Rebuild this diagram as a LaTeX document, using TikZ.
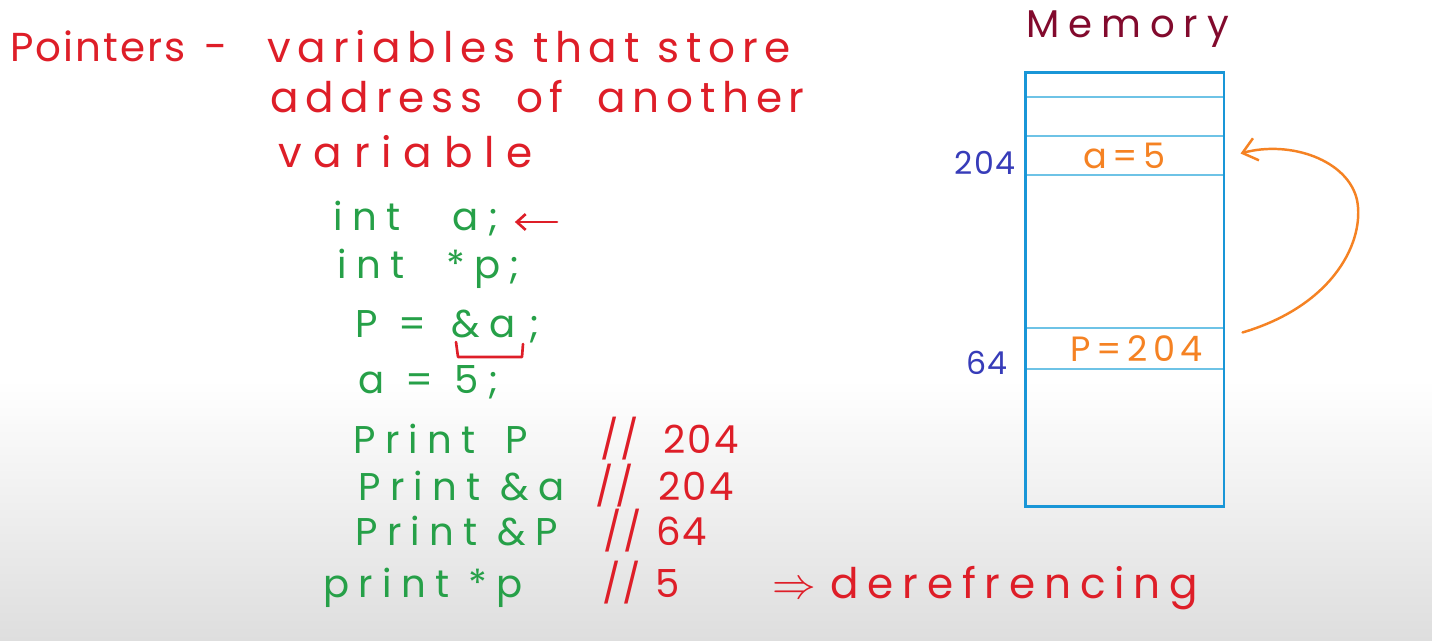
\documentclass[tikz,border=0pt]{standalone}
\usepackage{fontspec}
\usepackage{amssymb,amsmath}
\usetikzlibrary{calc,arrows.meta}
\setmainfont{Poppins}
\newfontfamily\handfont{Poppins}[LetterSpace=16]
\newfontfamily\wideHandfont{Poppins}[LetterSpace=28]
\newfontfamily\derefFont{Poppins}[LetterSpace=21]
\newfontfamily\codefont{Poppins}[LetterSpace=24]
\newfontfamily\numfont{Poppins}[LetterSpace=5]
\newfontfamily\memfont{Poppins}[LetterSpace=23]
\definecolor{inkRed}{RGB}{222,30,40}
\definecolor{inkGreen}{RGB}{38,160,72}
\definecolor{inkMaroon}{RGB}{130,10,45}
\definecolor{inkBlue}{RGB}{55,60,185}
\definecolor{inkOrange}{RGB}{245,130,35}
\definecolor{boxBlue}{RGB}{25,150,215}
\definecolor{cellBlue}{RGB}{110,195,230}
\definecolor{boardGray}{RGB}{222,222,222}
\tikzset{
  hand/.style={anchor=base west,inner sep=0pt,text=inkRed,font=\handfont\fontsize{24}{28}\selectfont},
  code/.style={anchor=base west,inner sep=0pt,text=inkGreen,font=\codefont\fontsize{22}{26}\selectfont},
  note/.style={anchor=base west,inner sep=0pt,text=inkRed,font=\numfont\fontsize{22}{26}\selectfont},
  addr/.style={inner sep=0pt,text=inkBlue,font=\numfont\fontsize{18}{22}\selectfont},
  cell/.style={draw=cellBlue,line width=0.6pt,minimum width=3.98cm,inner sep=0pt,text=inkOrange,font=\handfont\fontsize{20}{24}\selectfont},
  redInk/.style={draw=inkRed,line width=1.5pt,line cap=round,line join=round},
  redArrow/.style={redInk,-{Straight Barb[length=5pt,width=9pt]}},
  orangeArrow/.style={draw=inkOrange,line width=1.4pt,line cap=round,-{Straight Barb[length=8pt,width=13pt]}}
}

\begin{document}
\begin{tikzpicture}[x=0.02cm,y=-0.02cm]
\useasboundingbox (0,0) rectangle (1432,640);
\fill[white] (0,0) rectangle (1432,640);
\shade[top color=white,bottom color=boardGray] (0,380) rectangle (1432,640);

\node[hand,font=\numfont\fontsize{23}{27}\selectfont] (title) at (10,61) {Pointers};
\node[hand] (dash) at (204,61) {-};
\node[hand] (defA) at (267,62) {variables that store};
\node[hand] (defB) at (270,112) {address\hspace{9pt} of\hspace{9pt} another};
\node[hand,font=\wideHandfont\fontsize{24}{28}\selectfont] (defC) at (278,167) {variable};

\node[code] (codeA) at (333,230) {int\hspace{30pt}a;};
\node[code] (codeB) at (337,278) {int\hspace{24pt}*p;};
\node[code] (codeC) at (355,337) {P\hspace{12pt}=\hspace{14pt}\&a\hspace{8pt};};
\node[code] (codeD) at (358,393) {a\hspace{12pt}=\hspace{12pt}5;};
\node[code] (printA) at (353,453) {Print\hspace{6pt} P};
\node[code] (printB) at (358,500) {Print \&a};
\node[code] (printC) at (355,545) {Print \&P};
\node[code] (printD) at (323,597) {print *p};

\node[note] (outA) at (600,453) {//\hspace{14pt}204};
\node[note] (outB) at (595,500) {//\hspace{14pt}204};
\node[note] (outC) at (603,545) {//\hspace{8pt}64};
\node[note] (outD) at (602,597) {//\hspace{8pt}5};
\node[hand,font=\derefFont\fontsize{24}{28}\selectfont] (deref) at (772,598) {$\Rightarrow$\hspace{8pt}derefrencing};

\coordinate (aTail) at (557,222);
\draw[redArrow] (aTail) -- ($(aTail -| codeA.east)+(16,0)$);
\draw[redInk] (456,342) -- (458,357) -- (522,357) -- (523,344);

\node[anchor=base west,inner sep=0pt,text=inkMaroon,font=\memfont\fontsize{22}{26}\selectfont] (memTitle) at (1026,37) {Memory};
\node[cell,minimum height=0.78cm] (cellTwo) at (1124.5,116.5) {};
\node[cell,minimum height=0.78cm] (cellA) at (1124.5,155.5) {a=5};
\node[cell,minimum height=0.82cm] (cellP) at (1124.5,348.5) {\hspace{14pt}P=204};
\node[draw=boxBlue,line width=1.7pt,minimum width=3.98cm,minimum height=8.7cm,inner sep=0pt] (memBox) at (1124.5,289.5) {};
\node[addr] (addrA) at (985,163) {204};
\node[addr] (addrP) at (987,363) {64};

\draw[orangeArrow] ($(cellP.north east)+(18,5)$) .. controls (1335,305) and (1365,240) .. (1357,200) .. controls (1348,160) and (1290,140) .. ($(cellA.east)+(16,-2)$);
\end{tikzpicture}
\end{document}
